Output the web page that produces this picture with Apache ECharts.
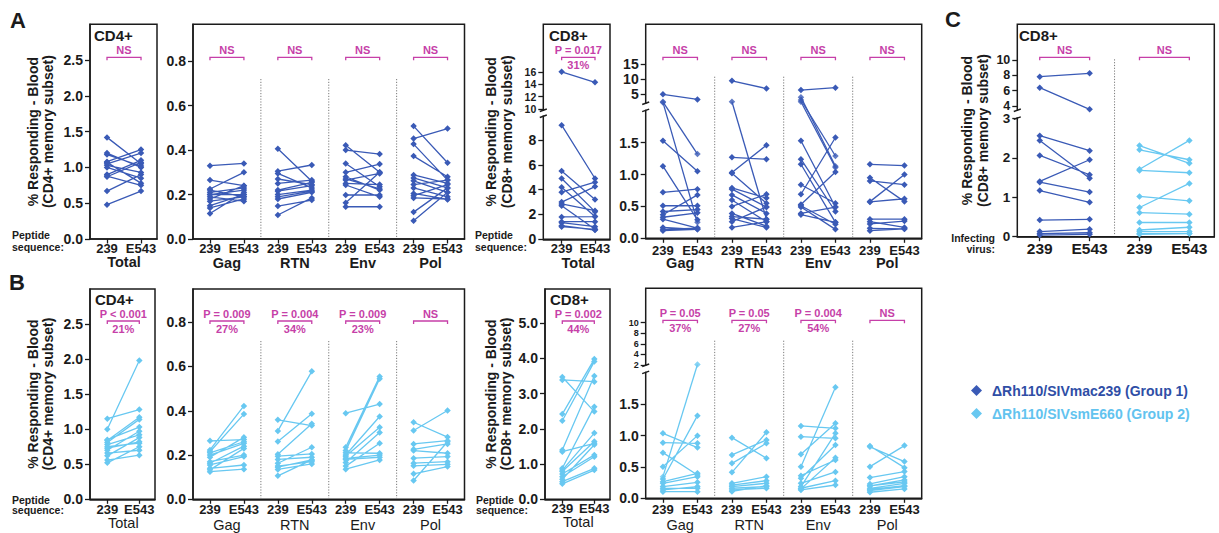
<!DOCTYPE html>
<html><head><meta charset="utf-8">
<script src="https://cdn.jsdelivr.net/npm/echarts@6/dist/echarts.min.js"></script>
<style>html,body{margin:0;padding:0;background:#fff}#c{width:1219px;height:533px}</style>
</head><body><div id="c"></div>
<script>
// ---------------- DATA ----------------
const PAIR_LABELS = ['239', 'E543'];
const ANTIGENS = ['Gag', 'RTN', 'Env', 'Pol'];
const N1 = 'ΔRh110/SIVmac239 (Group 1)';
const N2 = 'ΔRh110/SIVsmE660 (Group 2)';

// Row A (Group 1)
const A_CD4_Total_239  = [1.42, 1.20, 1.08, 1.07, 1.05, 1.03, 0.90, 0.88, 0.87, 0.67, 0.48, 1.18, 1.00];
const A_CD4_Total_E543 = [1.05, 1.00, 1.25, 0.78, 1.20, 0.93, 1.10, 0.75, 1.07, 0.90, 0.67, 1.02, 0.85];
const A_CD4_Gag_239  = [0.33, 0.265, 0.225, 0.22, 0.21, 0.20, 0.19, 0.18, 0.15, 0.14, 0.115, 0.20, 0.17];
const A_CD4_Gag_E543 = [0.34, 0.24, 0.30, 0.19, 0.23, 0.22, 0.17, 0.24, 0.20, 0.18, 0.21, 0.20, 0.19];
const A_CD4_RTN_239  = [0.406, 0.305, 0.295, 0.25, 0.22, 0.215, 0.20, 0.18, 0.148, 0.108, 0.27, 0.19];
const A_CD4_RTN_E543 = [0.26, 0.333, 0.23, 0.265, 0.255, 0.24, 0.22, 0.21, 0.175, 0.185, 0.245, 0.215];
const A_CD4_Env_239  = [0.422, 0.40, 0.34, 0.30, 0.28, 0.265, 0.25, 0.243, 0.198, 0.163, 0.145, 0.27];
const A_CD4_Env_E543 = [0.30, 0.382, 0.235, 0.337, 0.22, 0.295, 0.245, 0.19, 0.198, 0.30, 0.145, 0.225];
const A_CD4_Pol_239  = [0.508, 0.452, 0.427, 0.373, 0.288, 0.275, 0.262, 0.245, 0.23, 0.205, 0.195, 0.185, 0.121, 0.082];
const A_CD4_Pol_E543 = [0.343, 0.497, 0.265, 0.28, 0.25, 0.23, 0.21, 0.265, 0.19, 0.178, 0.245, 0.18, 0.23, 0.21];

const A_CD8_Total_239  = [16.0, 9.2, 5.5, 4.9, 4.2, 3.8, 3.0, 2.85, 2.7, 1.8, 1.42, 1.34, 1.1, 1.02];
const A_CD8_Total_E543 = [14.3, 4.9, 3.2, 2.23, 1.83, 4.6, 4.25, 2.31, 0.81, 1.83, 1.42, 1.02, 0.75, 0.8];
const A_CD8_Gag_239  = [4.9, 2.4, 2.2, 1.53, 1.13, 0.72, 0.51, 0.42, 0.37, 0.33, 0.30, 0.17, 0.14, 0.12];
const A_CD8_Gag_E543 = [3.2, 1.32, 0.25, 1.05, 0.29, 0.77, 0.51, 0.45, 0.68, 0.40, 0.16, 0.14, 0.16, 0.14];
const A_CD8_RTN_239  = [9.4, 2.4, 1.27, 1.03, 1.02, 0.79, 0.77, 0.68, 0.60, 0.50, 0.39, 0.34, 0.31, 0.26, 0.17];
const A_CD8_RTN_E543 = [6.8, 0.30, 1.24, 1.46, 0.55, 0.63, 0.49, 0.39, 0.26, 0.69, 0.19, 0.30, 0.17, 0.49, 0.26];
const A_CD8_Env_239  = [6.3, 3.9, 3.0, 2.4, 1.53, 1.24, 1.16, 0.84, 0.69, 0.53, 0.51, 0.49, 0.39, 0.37];
const A_CD8_Env_E543 = [7.1, 1.13, 1.29, 1.11, 0.49, 0.42, 0.25, 0.55, 1.58, 1.04, 0.22, 0.14, 0.49, 0.25];
const A_CD8_Pol_239  = [1.16, 0.95, 0.90, 0.575, 0.57, 0.30, 0.26, 0.225, 0.157, 0.12];
const A_CD8_Pol_E543 = [1.14, 0.575, 0.84, 1.0, 0.62, 0.30, 0.17, 0.27, 0.146, 0.15];

// Panel C (infecting virus)
const C_G1_239  = [7.83, 6.39, 2.56, 2.44, 2.06, 1.40, 1.38, 1.17, 0.42, 0.13, 0.08, 0.04];
const C_G1_E543 = [8.26, 3.57, 2.18, 1.48, 1.57, 1.95, 1.13, 0.87, 0.44, 0.19, 0.10, 0.06];
const C_G2_239  = [2.31, 2.20, 1.71, 1.68, 1.02, 0.74, 0.61, 0.36, 0.17, 0.13, 0.08, 0.06];
const C_G2_E543 = [1.86, 1.95, 2.44, 1.62, 0.91, 1.35, 0.57, 0.36, 0.24, 0.13, 0.08, 0.08];

// Row B (Group 2)
const B_CD4_Total_239  = [1.15, 1.00, 0.85, 0.81, 0.78, 0.73, 0.70, 0.66, 0.62, 0.56, 0.52, 0.84, 0.75];
const B_CD4_Total_E543 = [1.28, 1.98, 1.03, 1.14, 0.92, 0.82, 0.97, 0.70, 0.88, 0.63, 0.75, 1.17, 0.80];
const B_CD4_Gag_239  = [0.264, 0.223, 0.215, 0.20, 0.19, 0.17, 0.163, 0.155, 0.14, 0.133, 0.125, 0.21];
const B_CD4_Gag_E543 = [0.27, 0.422, 0.385, 0.253, 0.28, 0.20, 0.24, 0.193, 0.155, 0.23, 0.136, 0.26];
const B_CD4_RTN_239  = [0.359, 0.309, 0.261, 0.204, 0.195, 0.163, 0.15, 0.145, 0.135, 0.106, 0.18];
const B_CD4_RTN_E543 = [0.333, 0.578, 0.386, 0.341, 0.205, 0.235, 0.17, 0.178, 0.16, 0.178, 0.19];
const B_CD4_Env_239  = [0.389, 0.235, 0.22, 0.20, 0.195, 0.185, 0.166, 0.15, 0.136, 0.21, 0.18];
const B_CD4_Env_E543 = [0.43, 0.555, 0.545, 0.374, 0.326, 0.20, 0.302, 0.253, 0.178, 0.208, 0.19];
const B_CD4_Pol_239  = [0.348, 0.311, 0.25, 0.226, 0.22, 0.186, 0.163, 0.151, 0.115, 0.085];
const B_CD4_Pol_E543 = [0.281, 0.401, 0.265, 0.25, 0.208, 0.193, 0.17, 0.158, 0.148, 0.26];

const B_CD8_Total_239  = [3.47, 3.39, 2.42, 2.23, 1.40, 1.35, 0.88, 0.83, 0.79, 0.72, 0.64, 0.57, 0.50, 0.44];
const B_CD8_Total_E543 = [2.49, 3.34, 3.98, 3.91, 3.50, 1.59, 2.63, 1.88, 1.64, 1.26, 1.21, 1.55, 0.88, 0.83];
const B_CD8_Gag_239  = [1.035, 0.886, 0.727, 0.504, 0.345, 0.308, 0.265, 0.239, 0.186, 0.159, 0.133, 0.106];
const B_CD8_Gag_E543 = [0.807, 0.876, 0.372, 0.998, 2.1, 1.316, 0.398, 0.345, 0.255, 0.159, 0.186, 0.106];
const B_CD8_RTN_239  = [0.966, 0.69, 0.557, 0.414, 0.239, 0.21, 0.186, 0.16, 0.133, 0.11];
const B_CD8_RTN_E543 = [0.637, 0.929, 0.876, 1.051, 0.345, 0.281, 0.239, 0.186, 0.159, 0.2];
const B_CD8_Env_239  = [1.152, 0.982, 0.70, 0.504, 0.36, 0.318, 0.239, 0.186, 0.16, 0.133, 0.15];
const B_CD8_Env_E543 = [1.115, 0.955, 1.194, 1.767, 0.61, 0.849, 0.419, 1.035, 0.281, 0.212, 0.647];
const B_CD8_Pol_239  = [0.833, 0.82, 0.504, 0.33, 0.228, 0.196, 0.159, 0.122, 0.096, 0.2, 0.14];
const B_CD8_Pol_E543 = [0.488, 0.584, 0.839, 0.425, 0.345, 0.292, 0.239, 0.186, 0.149, 0.26, 0.2];

// tick values
const T_CD4_TOTAL = [0, 0.5, 1, 1.5, 2, 2.5];
const T_CD4_ANT = [0, 0.2, 0.4, 0.6, 0.8];
const T_A_CD8_TOT_LO = [0, 2, 4, 6, 8];
const T_A_CD8_TOT_HI = [10, 12, 14, 16];
const T_CD8_ANT_LO = [0, 0.5, 1, 1.5];
const T_A_CD8_ANT_HI = [5, 10, 15];
const T_B_CD8_ANT_HI = [2, 4, 6, 8, 10];
const T_C_LO = [0, 1, 2, 3];
const T_C_HI = [4, 6, 8, 10];
const T_B_CD8_TOTAL = [0, 1, 2, 3, 4, 5];

// statistics text
const STAT_A_CD4 = [['NS'], ['NS'], ['NS'], ['NS']];
const STAT_A_CD8 = [['NS'], ['NS'], ['NS'], ['NS']];
const STAT_B_CD4 = [['P = 0.009', '27%'], ['P = 0.004', '34%'], ['P = 0.009', '23%'], ['NS']];
const STAT_B_CD8 = [['P = 0.05', '37%'], ['P = 0.05', '27%'], ['P = 0.004', '54%'], ['NS']];

// ---------------- STYLE ----------------
const FONT = "'Liberation Sans', Arial, Helvetica, sans-serif";
const INK = '#1b1b1b';
const DARK = '#3a5ab6';
const LIGHT = '#68c8f1';
const MAG = '#c63fa8';
const NAME_CD4 = '% Responding - Blood\n(CD4+ memory subset)';
const NAME_CD8 = '% Responding - Blood\n(CD8+ memory subset)';
const ST_A = { text: 25.5, br: 33, pct: 40.5 };
const ST_B = { text: 24.5, br: 32, pct: 40 };

function antGroups(arrs, color, name, stats) {
  return arrs.map((ab, k) => ({ x0: 2 * k, a: ab[0], b: ab[1], color, name, stat: stats[k] }));
}

const PANELS = [
  { box: { l: 90, r: 157, t: 24.3, b: 239 }, x: [-0.5, 1.47], xTicks: [0, 1],
    segs: [{ t: 24.3, b: 239, min: 0, max: 3.0, ticks: T_CD4_TOTAL, dec: 1 }],
    names: ['Total'], nameBold: true, yName: NAME_CD4, nameGap: 34, lab: 9.3, nam: 23, xFont: 13, st: ST_A,
    groups: [{ x0: 0, a: A_CD4_Total_239, b: A_CD4_Total_E543, color: DARK, name: N1, stat: ['NS'] }] },
  { box: { l: 193, r: 464.5, t: 24.3, b: 239 }, x: [-0.5, 7.5], xTicks: [0, 1, 2, 3, 4, 5, 6, 7],
    segs: [{ t: 24.3, b: 239, min: 0, max: 0.966, ticks: T_CD4_ANT, dec: 1 }],
    names: ANTIGENS, nameBold: true, seps: [1.5, 3.5, 5.5], sepTop: 54.7, lab: 9.3, nam: 24.3, xFont: 13, st: ST_A,
    groups: antGroups([[A_CD4_Gag_239, A_CD4_Gag_E543], [A_CD4_RTN_239, A_CD4_RTN_E543], [A_CD4_Env_239, A_CD4_Env_E543], [A_CD4_Pol_239, A_CD4_Pol_E543]], DARK, N1, STAT_A_CD4) },
  { box: { l: 543.3, r: 610, t: 24.3, b: 239.3 }, x: [-0.55, 1.45], xTicks: [0, 1],
    segs: [{ t: 24.3, b: 110, min: 9.84, max: 23.66, ticks: T_A_CD8_TOT_HI, dec: 0, fs: 10.5, lh: 10.5, split: true },
           { t: 116.5, b: 239.3, min: 0, max: 9.9, ticks: T_A_CD8_TOT_LO, dec: 0 }],
    names: ['Total'], nameBold: true, yName: NAME_CD8, nameGap: 29, lab: 9.5, nam: 23.5, xFont: 13, st: ST_A,
    groups: [{ x0: 0, a: A_CD8_Total_239, b: A_CD8_Total_E543, color: DARK, name: N1, stat: ['P = 0.017', '31%'] }] },
  { box: { l: 645.7, r: 921.7, t: 24.3, b: 238.3 }, x: [-0.5, 7.5], xTicks: [0, 1, 2, 3, 4, 5, 6, 7],
    segs: [{ t: 24.3, b: 103, min: 2, max: 28.2, ticks: T_A_CD8_ANT_HI, dec: 0, lh: 13 },
           { t: 110.7, b: 238.3, min: 0, max: 2, ticks: T_CD8_ANT_LO, dec: 1 }],
    names: ANTIGENS, nameBold: true, seps: [1.5, 3.5, 5.5], sepTop: 52.4, lab: 11.7, nam: 25, xFont: 13, st: ST_A,
    groups: antGroups([[A_CD8_Gag_239, A_CD8_Gag_E543], [A_CD8_RTN_239, A_CD8_RTN_E543], [A_CD8_Env_239, A_CD8_Env_E543], [A_CD8_Pol_239, A_CD8_Pol_E543]], DARK, N1, STAT_A_CD8) },
  { box: { l: 1017.3, r: 1214.3, t: 24.3, b: 236.7 }, x: [-0.45, 3.5], xTicks: [0, 1, 2, 3],
    segs: [{ t: 24.3, b: 110, min: 3.48, max: 14.65, ticks: T_C_HI, dec: 0, fs: 12.5, lh: 10, split: true },
           { t: 118.3, b: 236.7, min: 0, max: 3, ticks: T_C_LO, dec: 0, fs: 13.5, lh: 11 }],
    names: [], seps: [1.5], sepTop: 35, yName: NAME_CD8, nameGap: 27, lab: 11.6, xFont: 15.5, st: ST_A,
    groups: [{ x0: 0, a: C_G1_239, b: C_G1_E543, color: DARK, name: N1, stat: ['NS'] },
             { x0: 2, a: C_G2_239, b: C_G2_E543, color: LIGHT, name: N2, stat: ['NS'] }] },
  { box: { l: 90, r: 155, t: 289, b: 499.3 }, x: [-0.54, 1.49], xTicks: [0, 1],
    segs: [{ t: 289, b: 499.3, min: 0, max: 3.0, ticks: T_CD4_TOTAL, dec: 1 }],
    names: ['Total'], nameBold: false, yName: NAME_CD4, nameGap: 34, lab: 10, nam: 24, xFont: 13, st: ST_B,
    groups: [{ x0: 0, a: B_CD4_Total_239, b: B_CD4_Total_E543, color: LIGHT, name: N2, stat: ['P < 0.001', '21%'] }] },
  { box: { l: 193, r: 464.5, t: 289, b: 499.3 }, x: [-0.5, 7.5], xTicks: [0, 1, 2, 3, 4, 5, 6, 7],
    segs: [{ t: 289, b: 499.3, min: 0, max: 0.95, ticks: T_CD4_ANT, dec: 1 }],
    names: ANTIGENS, nameBold: false, seps: [1.5, 3.5, 5.5], sepTop: 52, lab: 10, nam: 25.7, xFont: 13, st: ST_B,
    groups: antGroups([[B_CD4_Gag_239, B_CD4_Gag_E543], [B_CD4_RTN_239, B_CD4_RTN_E543], [B_CD4_Env_239, B_CD4_Env_E543], [B_CD4_Pol_239, B_CD4_Pol_E543]], LIGHT, N2, STAT_B_CD4) },
  { box: { l: 545, r: 610, t: 289, b: 499.3 }, x: [-0.54, 1.49], xTicks: [0, 1],
    segs: [{ t: 289, b: 499.3, min: 0, max: 5.97, ticks: T_B_CD8_TOTAL, dec: 1 }],
    names: ['Total'], nameBold: false, yName: NAME_CD8, nameGap: 31, lab: 9, nam: 22.4, xFont: 13, st: ST_B,
    groups: [{ x0: 0, a: B_CD8_Total_239, b: B_CD8_Total_E543, color: LIGHT, name: N2, stat: ['P = 0.002', '44%'] }] },
  { box: { l: 645.7, r: 921.7, t: 288.3, b: 498.3 }, x: [-0.5, 7.5], xTicks: [0, 1, 2, 3, 4, 5, 6, 7],
    segs: [{ t: 288.3, b: 365, min: 2, max: 16.5, ticks: T_B_CD8_ANT_HI, dec: 0, fs: 9, lh: 9, split: true },
           { t: 372.7, b: 498.3, min: 0, max: 2, ticks: T_CD8_ANT_LO, dec: 1 }],
    names: ANTIGENS, nameBold: false, seps: [1.5, 3.5, 5.5], sepTop: 52.4, lab: 11, nam: 26.7, xFont: 13, st: ST_B,
    groups: antGroups([[B_CD8_Gag_239, B_CD8_Gag_E543], [B_CD8_RTN_239, B_CD8_RTN_E543], [B_CD8_Env_239, B_CD8_Env_E543], [B_CD8_Pol_239, B_CD8_Pol_E543]], LIGHT, N2, STAT_B_CD8) }
];

// ---------------- BUILD ----------------
const grids = [], xAxis = [], yAxis = [], series = [], crosses = [];
const NAME_STYLE = { fontFamily: FONT, fontSize: 14, fontWeight: 'bold', color: INK, lineHeight: 15.5 };
const LINE = { color: INK, width: 1.5 };

function segOf(P, v) {
  for (let i = P.segs.length - 1; i >= 0; i--) {
    const s = P.segs[i];
    if (v >= s.min && v <= s.max) return i;
  }
  return v > P.segs[0].max ? 0 : P.segs.length - 1;
}

function yAxisCfg(gi, s, ticks, showLine) {
  return { type: 'value', gridIndex: gi, min: s.min, max: s.max, position: 'left', offset: 0,
    axisLine: { show: showLine, onZero: false, lineStyle: LINE },
    axisTick: { show: true, interval: 0, customValues: ticks, length: 5, lineStyle: { color: INK, width: 1.3 } },
    axisLabel: { customValues: ticks, formatter: v => Number(v).toFixed(s.dec), margin: 7,
      interval: 0, hideOverlap: false, showMinLabel: true, showMaxLabel: true,
      fontFamily: FONT, fontSize: s.fs || 14, fontWeight: 'bold', color: INK, lineHeight: s.lh || 14 },
    splitLine: { show: false } };
}

PANELS.forEach(P => {
  const box = P.box, W = box.r - box.l, broken = P.segs.length > 1;
  if (broken) {
    const gi = grids.length;
    grids.push({ left: box.l, top: box.t, width: W, height: box.b - box.t, show: true, borderColor: INK, borderWidth: 1.5, backgroundColor: 'rgba(0,0,0,0)', outerBoundsMode: 'none', containLabel: false });
    xAxis.push({ type: 'value', gridIndex: gi, min: P.x[0], max: P.x[1], show: false });
    yAxis.push({ type: 'value', gridIndex: gi, min: 0, max: 1, axisLine: { show: false, onZero: false }, axisTick: { show: false }, axisLabel: { show: false }, splitLine: { show: false },
      name: P.yName, nameLocation: 'middle', nameGap: P.nameGap, nameRotate: 90, nameTextStyle: NAME_STYLE, nameMoveOverlap: false });
  }
  P.segGrid = []; P.segX = []; P.segY = [];
  P.segs.forEach((s, si) => {
    const gi = grids.length, last = si === P.segs.length - 1;
    grids.push({ left: box.l, top: s.t, width: W, height: s.b - s.t, show: !broken, borderColor: INK, borderWidth: 1.5, backgroundColor: 'rgba(0,0,0,0)', outerBoundsMode: 'none', containLabel: false });
    const xi = xAxis.length;
    if (last) {
      xAxis.push({ type: 'value', gridIndex: gi, min: P.x[0], max: P.x[1], position: 'bottom',
        axisLine: { show: true, onZero: false, lineStyle: LINE },
        axisTick: { show: true, customValues: P.xTicks, length: 4.5, lineStyle: { color: INK, width: 1.3 } },
        axisLabel: { customValues: P.xTicks, formatter: v => PAIR_LABELS[Math.round(v) % 2], margin: P.lab, verticalAlign: 'middle',
          interval: 0, hideOverlap: false, showMinLabel: true, showMaxLabel: true,
          fontFamily: FONT, fontSize: P.xFont, fontWeight: 'bold', color: INK },
        splitLine: { show: false } });
      if (P.names.length) {
        xAxis.push({ type: 'value', gridIndex: gi, min: P.x[0], max: P.x[1], position: 'bottom',
          axisLine: { show: false, onZero: false }, axisTick: { show: false }, splitLine: { show: false },
          axisLabel: { customValues: P.names.map((_, k) => 2 * k + 0.5), formatter: v => P.names[Math.round((v - 0.5) / 2)],
            interval: 0, hideOverlap: false, showMinLabel: true, showMaxLabel: true,
            margin: P.nam, verticalAlign: 'middle', fontFamily: FONT, fontSize: 14.5, fontWeight: P.nameBold ? 'bold' : 'normal', color: INK } });
      }
    } else {
      xAxis.push({ type: 'value', gridIndex: gi, min: P.x[0], max: P.x[1], show: false });
    }
    const yi = yAxis.length;
    // split tightly packed tick labels over two coincident axes so none is auto-hidden
    const t0 = s.split ? s.ticks.filter((_, k) => k % 2 === 0) : s.ticks;
    const yCfg = yAxisCfg(gi, s, t0, !broken);
    if (!broken) Object.assign(yCfg, { name: P.yName, nameLocation: 'middle', nameGap: P.nameGap, nameRotate: 90, nameTextStyle: NAME_STYLE, nameMoveOverlap: false });
    yAxis.push(yCfg);
    if (s.split) yAxis.push(yAxisCfg(gi, s, s.ticks.filter((_, k) => k % 2 === 1), false));
    P.segGrid.push(gi); P.segX.push(xi); P.segY.push(yi);
  });

  P.groups.forEach(g => {
    const lines = P.segs.map(() => []), pts = P.segs.map(() => []);
    g.a.forEach((va, i) => {
      const vb = g.b[i];
      const p0 = [g.x0, va], p1 = [g.x0 + 1, vb];
      const s0 = segOf(P, va), s1 = segOf(P, vb);
      if (s0 === s1) lines[s0].push(p0, p1, [g.x0 + 1, '-']);
      else {
        pts[s0].push(p0); pts[s1].push(p1);
        crosses.push({ g0: P.segGrid[s0], p0, g1: P.segGrid[s1], p1, color: g.color });
      }
    });
    P.segs.forEach((s, si) => {
      if (lines[si].length) series.push({ type: 'line', name: g.name, xAxisIndex: P.segX[si], yAxisIndex: P.segY[si], data: lines[si],
        symbol: 'diamond', symbolSize: 6.5, showSymbol: true, connectNulls: false, silent: true, z: 4,
        lineStyle: { color: g.color, width: 1.3 }, itemStyle: { color: g.color } });
      if (pts[si].length) series.push({ type: 'scatter', name: g.name, xAxisIndex: P.segX[si], yAxisIndex: P.segY[si], data: pts[si],
        symbol: 'diamond', symbolSize: 6.5, silent: true, z: 4, itemStyle: { color: g.color } });
    });
  });
});

const chart = echarts.init(document.getElementById('c'), null, { renderer: 'svg', width: 1219, height: 533 });
chart.setOption({
  animation: false,
  backgroundColor: '#ffffff',
  textStyle: { fontFamily: FONT },
  grid: grids, xAxis: xAxis, yAxis: yAxis, series: series,
  legend: {
    orient: 'vertical', left: 966, top: 378.5, itemWidth: 11, itemHeight: 11, itemGap: 9, icon: 'diamond', selectedMode: false,
    textStyle: { fontFamily: FONT, fontSize: 14, fontWeight: 'bold', padding: [0, 0, 0, 5] },
    data: [{ name: N1, textStyle: { color: '#2f4ea6' } }, { name: N2, textStyle: { color: '#62c3ef' } }]
  }
});

// ---------------- ANNOTATIONS ----------------
const gfx = [];
function txt(x, y, text, size, weight, color, align) {
  align = align || 'left';
  gfx.push({ type: 'text', x: x, y: y, silent: true, z: 60,
    style: { text: text, fill: color || INK, fontFamily: FONT, fontSize: size, fontWeight: weight || 'bold',
      textAlign: align, textVerticalAlign: 'middle', align: align, verticalAlign: 'middle' } });
}
PANELS.forEach(P => {
  const last = P.segs.length - 1;
  const xi = P.segX[last];
  const px = v => chart.convertToPixel({ xAxisIndex: xi }, v);
  P.groups.forEach(g => {
    const x0 = px(g.x0), x1 = px(g.x0 + 1), y = P.box.t + P.st.br;
    gfx.push({ type: 'polyline', silent: true, z: 50, shape: { points: [[x0, y + 3], [x0, y], [x1, y], [x1, y + 3]] },
      style: { stroke: MAG, lineWidth: 1.3, fill: null } });
    txt((x0 + x1) / 2, P.box.t + (g.stat.length > 1 ? P.st.text + 0.5 : P.st.text), g.stat[0], 11, 'bold', MAG, 'center');
    if (g.stat[1]) txt((x0 + x1) / 2, P.box.t + P.st.pct, g.stat[1], 11, 'bold', MAG, 'center');
  });
  (P.seps || []).forEach(s => {
    const x = px(s);
    gfx.push({ type: 'line', silent: true, z: 1, shape: { x1: x, y1: P.box.t + P.sepTop, x2: x, y2: P.box.b - 1 },
      style: { stroke: '#7a7a7a', lineWidth: 1, lineDash: [1.2, 1.6] } });
  });
  if (P.segs.length > 1) {
    const up = P.segs[0], lo = P.segs[1], l = P.box.l;
    gfx.push({ type: 'rect', silent: true, z: 55, shape: { x: l - 3, y: up.b + 1, width: 6, height: lo.t - up.b - 2 }, style: { fill: '#ffffff' } });
    gfx.push({ type: 'line', silent: true, z: 56, shape: { x1: l - 3.5, y1: up.b + 1.5, x2: l + 3.5, y2: up.b - 1 }, style: { stroke: INK, lineWidth: 1.4 } });
    gfx.push({ type: 'line', silent: true, z: 56, shape: { x1: l - 3.5, y1: lo.t + 1, x2: l + 3.5, y2: lo.t - 1.5 }, style: { stroke: INK, lineWidth: 1.4 } });
  }
});
crosses.forEach(c => {
  const a = chart.convertToPixel({ gridIndex: c.g0 }, c.p0);
  const b = chart.convertToPixel({ gridIndex: c.g1 }, c.p1);
  gfx.push({ type: 'line', silent: true, z: 3, shape: { x1: a[0], y1: a[1], x2: b[0], y2: b[1] }, style: { stroke: c.color, lineWidth: 1.3 } });
});

// static texts
txt(10, 20, 'A', 22, 'bold');
txt(9, 282, 'B', 22, 'bold');
txt(945, 19, 'C', 22, 'bold');
txt(94, 35.5, 'CD4+', 15, 'bold');
txt(549, 35.5, 'CD8+', 15, 'bold');
txt(1019, 35.5, 'CD8+', 15, 'bold');
txt(95, 299.5, 'CD4+', 15, 'bold');
txt(550, 299.5, 'CD8+', 15, 'bold');
txt(12, 235, 'Peptide', 10.5, 'bold');
txt(12, 247, 'sequence:', 10.5, 'bold');
txt(475, 235, 'Peptide', 10.5, 'bold');
txt(475, 247, 'sequence:', 10.5, 'bold');
txt(12, 499.5, 'Peptide', 10.5, 'bold');
txt(12, 510, 'sequence:', 10.5, 'bold');
txt(476, 500, 'Peptide', 10.5, 'bold');
txt(476, 510, 'sequence:', 10.5, 'bold');
txt(995, 237.5, 'Infecting', 10.5, 'bold', INK, 'right');
txt(995, 248.5, 'virus:', 10.5, 'bold', INK, 'right');

chart.setOption({ graphic: { elements: gfx } });
</script></body></html>
